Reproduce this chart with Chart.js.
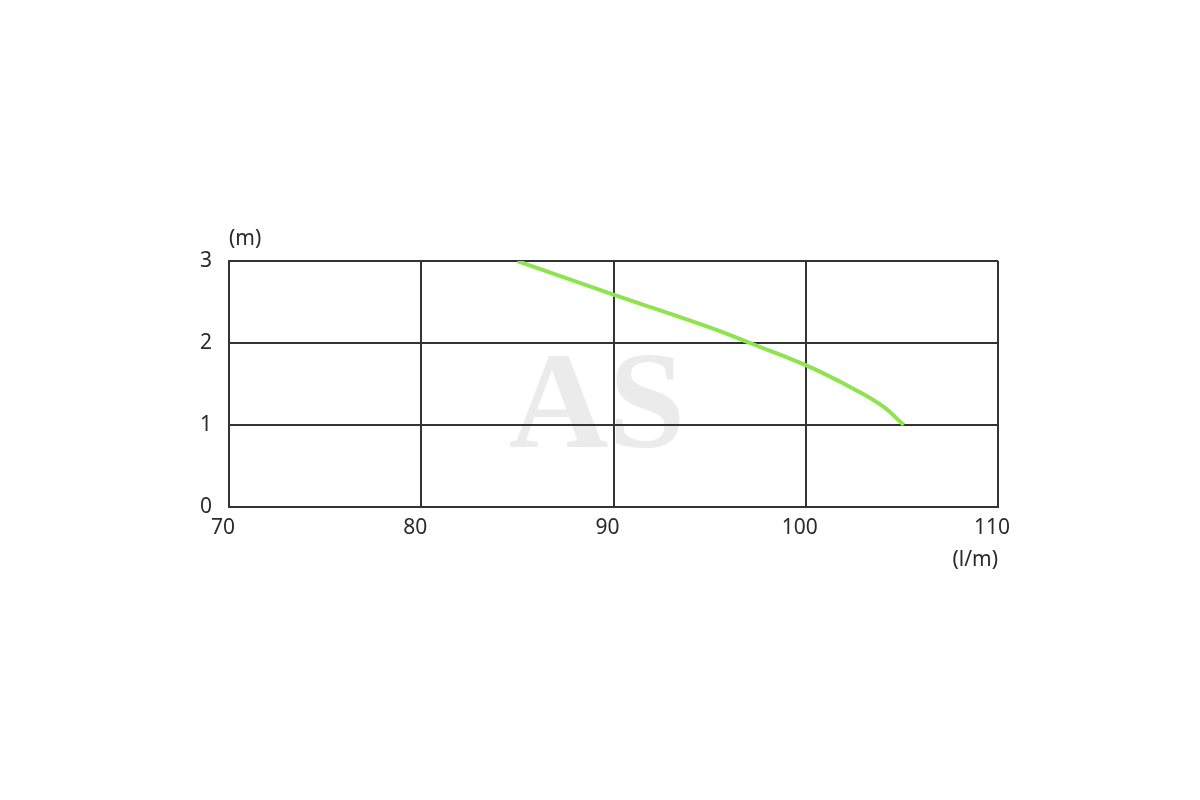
<!DOCTYPE html>
<html>
<head>
<meta charset="utf-8">
<style>
  html, body { margin: 0; padding: 0; background: #fff; }
  #wrap { width: 1200px; height: 800px; }
</style>
<script src="https://cdn.jsdelivr.net/npm/chart.js@4.4.0/dist/chart.umd.min.js"></script>
</head>
<body>
<div id="wrap"><canvas id="chart" width="1200" height="800"></canvas></div>
<script>
// flow (l/m) vs head (m)
const flow = [85.0, 90.0, 95.0, 97.1, 100.0, 102.5, 104.0, 105.1];
const head = [3.0, 2.59, 2.19, 2.0, 1.73, 1.44, 1.23, 1.0];
const xTicks = [70, 80, 90, 100, 110];
const yTicks = [0, 1, 2, 3];
const yUnit = "(m)";
const xUnit = "(l/m)";
const watermark = "AS";

const FONT = "'Noto Sans', sans-serif";
const INK = "#2a2a2a";

// axis units and faint watermark
const extras = {
  id: "extras",
  beforeDraw(chart) {
    const { ctx } = chart;
    ctx.save();
    ctx.fillStyle = "#ebebeb";
    ctx.font = "bold 138px 'Liberation Serif', serif";
    ctx.textAlign = "center";
    ctx.textBaseline = "alphabetic";
    ctx.fillText(watermark, 597, 447);
    ctx.restore();
  },
  afterDraw(chart) {
    const { ctx, chartArea } = chart;
    ctx.save();
    ctx.fillStyle = INK;
    ctx.font = "21px " + FONT;
    ctx.textBaseline = "middle";
    ctx.textAlign = "left";
    ctx.fillText(yUnit, chartArea.left, chartArea.top - 22);
    ctx.textAlign = "right";
    ctx.fillText(xUnit, chartArea.right, chartArea.bottom + 53);
    ctx.restore();
  }
};

new Chart(document.getElementById("chart"), {
  type: "line",
  data: {
    datasets: [{
      data: flow.map((x, i) => ({ x: x, y: head[i] })),
      borderColor: "#8ee34f",
      borderWidth: 4,
      pointRadius: 0,
      tension: 0.4,
      fill: false
    }]
  },
  options: {
    responsive: false,
    animation: false,
    layout: { padding: { left: 0, top: 261, right: 202, bottom: 0 } },
    plugins: { legend: { display: false }, tooltip: { enabled: false } },
    scales: {
      x: {
        type: "linear",
        min: 70, max: 110,
        afterBuildTicks(scale) { scale.ticks = xTicks.map(v => ({ value: v })); },
        afterFit(scale) { scale.height = 293; },
        grid: { color: "#333", lineWidth: 2, drawTicks: false },
        border: { color: "#333", width: 2 },
        ticks: { color: INK, font: { family: FONT, size: 21 }, padding: 8, labelOffset: -6, maxRotation: 0 }
      },
      y: {
        type: "linear",
        min: 0, max: 3,
        afterBuildTicks(scale) { scale.ticks = yTicks.map(v => ({ value: v })); },
        afterFit(scale) { scale.width = 229; },
        grid: { color: "#333", lineWidth: 2, drawTicks: false },
        border: { color: "#333", width: 2 },
        ticks: { color: INK, font: { family: FONT, size: 21 }, padding: 17, labelOffset: 0 }
      }
    }
  },
  plugins: [extras]
});
</script>
</body>
</html>
